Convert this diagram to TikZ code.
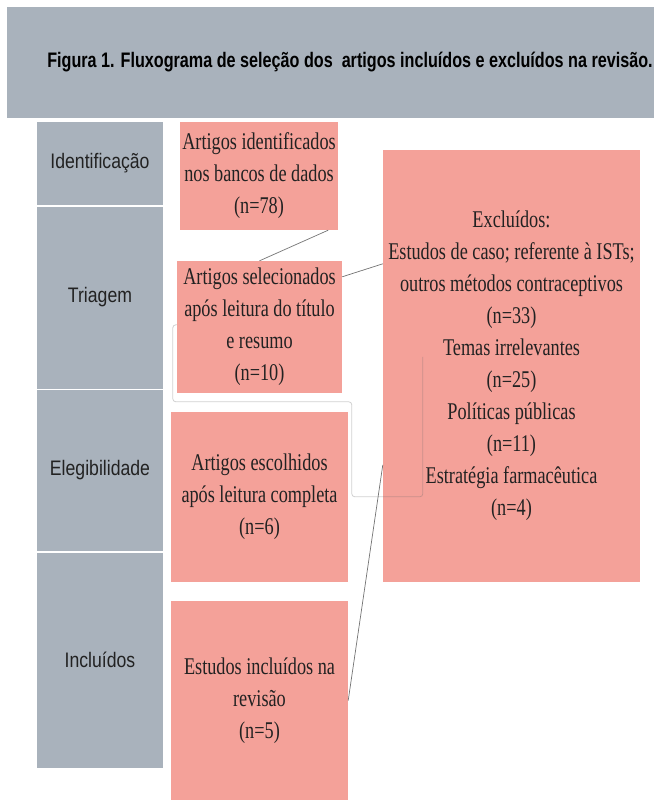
\documentclass[tikz,border=0pt]{standalone}
\usepackage{fontspec}
\newfontfamily\boxfont[FakeStretch=0.76]{Liberation Serif}
\newfontfamily\stagefont[FakeStretch=0.84]{Liberation Sans}
\newfontfamily\titlefont[FakeStretch=0.77]{Liberation Sans}

\definecolor{bandgray}{HTML}{A9B2BC}
\definecolor{boxpink}{HTML}{F4A199}
\definecolor{inkdark}{HTML}{222222}

\tikzset{
  stage/.style={fill=bandgray, minimum width=126pt, inner sep=0pt,
    font=\stagefont\fontsize{21}{24}\selectfont, text=inkdark},
  phase/.style={fill=boxpink, inner sep=0pt, align=center,
    font=\boxfont\fontsize{24}{32}\selectfont, text=inkdark},
  link/.style={draw=black!55, line width=0.7pt},
  faint/.style={draw=black!60, draw opacity=0.3, line width=0.8pt, rounded corners=3pt},
}

\begin{document}
\begin{tikzpicture}[x=1pt,y=-1pt]
\useasboundingbox (0,0) rectangle (654,800);

% title band
\node[fill=bandgray, minimum width=647pt, minimum height=111pt, inner sep=0pt] (band) at (330.5,62.5) {};
\node[font=\titlefont\bfseries\fontsize{21}{24}\selectfont, text=black] (title) at (350,62)
  {Figura 1. Fluxograma de seleção dos\ \ artigos incluídos e excluídos na revisão.};

% stages on the left
\node[stage, minimum height=83pt] (ident) at (100,163.5) {Identificação};
\node[stage, minimum height=182pt] (triag) at (100,297.5) {Triagem};
\node[stage, minimum height=161pt] (elig) at (100,470.5) {Elegibilidade};
\node[stage, minimum height=215pt] (incl) at (100,660) {Incluídos};

% counts
\node[phase, minimum width=158pt, minimum height=108pt] (found) at (259,176)
  {Artigos identificados\\nos bancos de dados\\(n=78)};
\node[phase, minimum width=165pt, minimum height=132pt] (screen) at (259.5,327)
  {Artigos selecionados\\após leitura do título\\e resumo\\(n=10)};
\node[phase, minimum width=177pt, minimum height=170pt] (full) at (259.5,497)
  {Artigos escolhidos\\após leitura completa\\(n=6)};
\node[phase, minimum width=177pt, minimum height=199pt] (final) at (259.5,700.5)
  {Estudos incluídos na\\revisão\\(n=5)};

% excluded box
\node[phase, minimum width=257pt, minimum height=432pt] (excl) at (511.5,366)
  {Excluídos:\\Estudos de caso; referente à ISTs;\\outros métodos contraceptivos\\(n=33)\\
   Temas irrelevantes\\(n=25)\\Políticas públicas\\(n=11)\\Estratégia farmacêutica\\(n=4)};

% connectors
\draw[link] ([xshift=-10pt]found.south east) -- (screen.north);
\draw[link] ([yshift=-16pt]screen.north east) -- ([yshift=-114pt]excl.north west);
\draw[link] (final.east) -- ([yshift=-315pt]excl.north west);
\draw[faint] ([yshift=-64pt]screen.north west) -- ++(-4,0) -- ++(0,77) -- ++(179,0)
  -- ++(0,95) -- ++(71,0) -- ++(0,-140);

\end{tikzpicture}
\end{document}
